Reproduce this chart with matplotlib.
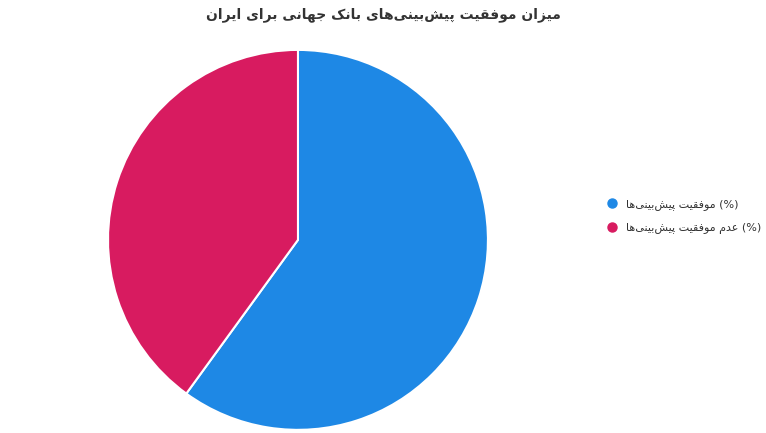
import matplotlib
matplotlib.use("Agg")
import matplotlib.pyplot as plt
from matplotlib.lines import Line2D

# ---- data ----
title = "میزان موفقیت پیش‌بینی‌های بانک جهانی برای ایران"
labels = ["موفقیت پیش‌بینی‌ها (%)", "عدم موفقیت پیش‌بینی‌ها (%)"]
values = [60, 40]
colors = ["#1E88E5", "#D81B60"]

# ---- minimal Arabic/Persian shaping (presentation forms) ----
FORMS = {
    '\u0627': ('\uFE8D', '\uFE8E', None, None),
    '\u0628': ('\uFE8F', '\uFE90', '\uFE91', '\uFE92'),
    '\u067E': ('\uFB56', '\uFB57', '\uFB58', '\uFB59'),
    '\u062A': ('\uFE95', '\uFE96', '\uFE97', '\uFE98'),
    '\u062C': ('\uFE9D', '\uFE9E', '\uFE9F', '\uFEA0'),
    '\u062F': ('\uFEA9', '\uFEAA', None, None),
    '\u0631': ('\uFEAD', '\uFEAE', None, None),
    '\u0632': ('\uFEAF', '\uFEB0', None, None),
    '\u0634': ('\uFEB5', '\uFEB6', '\uFEB7', '\uFEB8'),
    '\u0639': ('\uFEC9', '\uFECA', '\uFECB', '\uFECC'),
    '\u0641': ('\uFED1', '\uFED2', '\uFED3', '\uFED4'),
    '\u0642': ('\uFED5', '\uFED6', '\uFED7', '\uFED8'),
    '\u06A9': ('\uFB8E', '\uFB8F', '\uFB90', '\uFB91'),
    '\u0645': ('\uFEE1', '\uFEE2', '\uFEE3', '\uFEE4'),
    '\u0646': ('\uFEE5', '\uFEE6', '\uFEE7', '\uFEE8'),
    '\u0647': ('\uFEE9', '\uFEEA', '\uFEEB', '\uFEEC'),
    '\u0648': ('\uFEED', '\uFEEE', None, None),
    '\u06CC': ('\uFBFC', '\uFBFD', '\uFBFE', '\uFBFF'),
}


def dual(c):
    return c in FORMS and FORMS[c][2] is not None


def shape_run(run):
    out = []
    n = len(run)
    for i, c in enumerate(run):
        if c not in FORMS:
            if c != '\u200c':
                out.append(c)
            continue
        prev = run[i - 1] if i > 0 else ''
        nxt = run[i + 1] if i < n - 1 else ''
        cp = dual(prev)
        cn = dual(c) and nxt in FORMS
        f = FORMS[c]
        if cp and cn:
            g = f[3]
        elif cp:
            g = f[1]
        elif cn:
            g = f[2]
        else:
            g = f[0]
        out.append(g)
    return ''.join(reversed(out))


def visual(s):
    # LTR paragraph: Arabic run reversed, trailing latin part kept
    idx = s.find(' (')
    if idx >= 0:
        return shape_run(s[:idx]) + s[idx:]
    return shape_run(s)


plt.rcParams['font.family'] = ['DejaVu Sans']

fig = plt.figure(figsize=(7.66, 4.33), dpi=100)
ax = fig.add_axes([0.141, 0.007, 0.496, 0.878])
ax.pie(values, colors=colors, startangle=90, counterclock=False,
       wedgeprops=dict(edgecolor='white', linewidth=1.5))
ax.set_xlim(-1.0, 1.0)
ax.set_ylim(-1.0, 1.0)
ax.set_aspect('equal')

fig.suptitle(visual(title), x=0.5, y=0.983, fontsize=10, fontweight='bold',
             color='#333333')

handles = [Line2D([], [], marker='o', linestyle='', markersize=6.5,
                  markerfacecolor=c, markeredgecolor=c) for c in colors]
fig.legend(handles, [visual(l) for l in labels], loc='center left',
           bbox_to_anchor=(0.772, 0.5), frameon=False, fontsize=8,
           handletextpad=0.25, labelspacing=1.2, labelcolor='#333333')

fig.savefig('out.png', dpi=100)
